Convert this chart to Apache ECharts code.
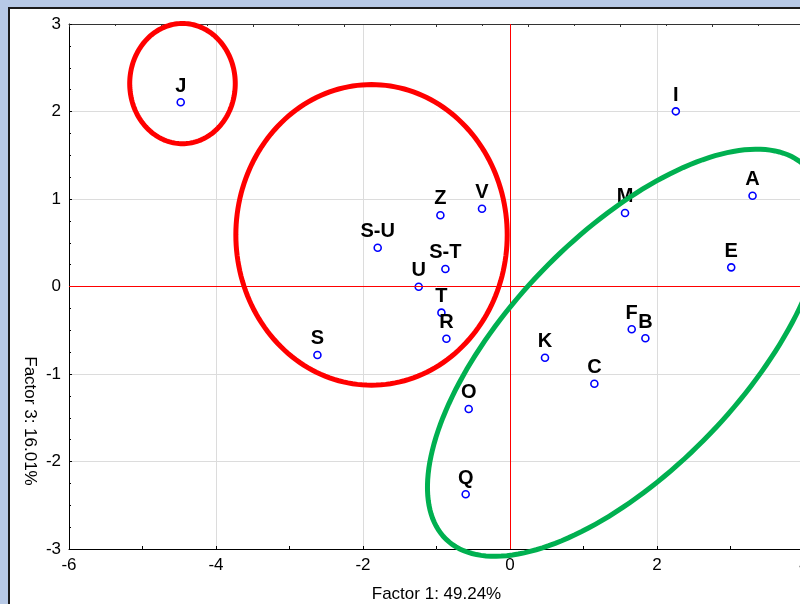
<!DOCTYPE html>
<html>
<head>
<meta charset="utf-8">
<title>Factor scores</title>
<script src="https://cdn.jsdelivr.net/npm/echarts/dist/echarts.min.js"></script>
<style>
  html, body { margin: 0; padding: 0; width: 800px; height: 604px; overflow: hidden; background: #b7c9e6; }
  #panel { position: absolute; left: 8px; top: 7px; width: 900px; height: 700px; background: #ffffff;
           border-left: 2px solid #1b1b1b; border-top: 2px solid #1b1b1b; }
  #chart { position: absolute; left: 0; top: 0; width: 840px; height: 620px; }
</style>
</head>
<body>
<div id="panel"></div>
<div id="chart"></div>
<script>
// Sample labels with their scores on factor 1 (x) and factor 3 (y)
const sampleNames = ['J', 'I', 'A', 'E', 'M', 'F', 'B', 'K', 'C', 'O', 'Q',
                     'S', 'S-U', 'Z', 'V', 'S-T', 'U', 'T', 'R'];
const factor1 = [-4.48, 2.256, 3.30, 3.01, 1.565, 1.656, 1.842, 0.476, 1.148, -0.562, -0.603,
                 -2.62, -1.80, -0.947, -0.381, -0.879, -1.242, -0.933, -0.865];
const factor3 = [2.105, 2.002, 1.038, 0.219, 0.84, -0.489, -0.592, -0.814, -1.111, -1.40, -2.375,
                 -0.783, 0.443, 0.814, 0.889, 0.20, -0.002, -0.299, -0.597];

// Axis ranges and ticks
const xRange = [-6, 4];
const xStep = 2;
const yRange = [-3, 3];
const yStep = 1;

// Grouping ellipses: centre (x, y) and two conjugate semi-axis vectors (u, v), in data units
const groupCentreX = [-4.456, -1.884, 1.574];
const groupCentreY = [2.319, 0.590, -0.757];
const groupUX = [0.718, 1.846, 2.441];
const groupUY = [0, 0, 2.134];
const groupVX = [0, 0, 1.147];
const groupVY = [0.687, 1.718, -0.926];
const groupColors = ['#ff0000', '#ff0000', '#00b050'];

const FONT = 'Arial, "Liberation Sans", sans-serif';

const points = sampleNames.map((n, i) => ({ name: n, value: [factor1[i], factor3[i]] }));
const groups = groupCentreX.map((cx, i) => [cx, groupCentreY[i], groupUX[i], groupUY[i], groupVX[i], groupVY[i], i]);

const chart = echarts.init(document.getElementById('chart'), null, { renderer: 'canvas' });

chart.setOption({
  animation: false,
  backgroundColor: 'transparent',
  grid: { left: 69, top: 24, width: 735, height: 525, containLabel: false },
  xAxis: [{
    type: 'value', position: 'bottom', min: xRange[0], max: xRange[1], interval: xStep,
    name: 'Factor 1: 49.24%', nameLocation: 'middle', nameGap: 37,
    nameTextStyle: { fontFamily: FONT, fontSize: 17, color: '#000' },
    axisLine: { show: true, onZero: false, lineStyle: { color: '#000', width: 1 } },
    axisTick: { show: true, inside: true, length: 3, lineStyle: { color: '#000' } },
    minorTick: { show: true, splitNumber: 2, length: 3, lineStyle: { color: '#000' } },
    splitLine: { show: true, lineStyle: { color: '#dcdcdc', width: 1 } },
    axisLabel: { fontFamily: FONT, fontSize: 17, color: '#000', margin: 8 }
  }, {
    type: 'value', position: 'top', min: 0, max: 16, interval: 2,
    axisLine: { show: true, onZero: false, lineStyle: { color: '#333', width: 1 } },
    axisTick: { show: true, inside: true, length: 3, lineStyle: { color: '#333' } },
    minorTick: { show: true, splitNumber: 2, length: 2, lineStyle: { color: '#333' } },
    splitLine: { show: false },
    axisLabel: { show: false }
  }],
  yAxis: {
    type: 'value', min: yRange[0], max: yRange[1], interval: yStep,
    axisLine: { show: true, onZero: false, lineStyle: { color: '#000', width: 1 } },
    axisTick: { show: true, inside: true, length: 3, lineStyle: { color: '#000' } },
    minorTick: { show: true, splitNumber: 4, length: 2, lineStyle: { color: '#000' } },
    splitLine: { show: true, lineStyle: { color: '#dcdcdc', width: 1 } },
    axisLabel: { fontFamily: FONT, fontSize: 17, color: '#000', margin: 8 }
  },
  graphic: [{
    type: 'text', x: 30, y: 421, rotation: -Math.PI / 2,
    style: { text: 'Factor 3: 16.01%', fontFamily: FONT, fontSize: 17, fill: '#000',
             align: 'center', verticalAlign: 'middle' }
  }],
  series: [{
    type: 'scatter',
    xAxisIndex: 0,
    data: points,
    symbol: 'circle',
    symbolSize: 7,
    itemStyle: { color: '#ffffff', borderColor: '#0000ff', borderWidth: 1.6, opacity: 1 },
    label: {
      show: true, position: 'top', distance: 2, formatter: '{b}',
      fontFamily: FONT, fontSize: 20, fontWeight: 'bold', color: '#000'
    },
    emphasis: { disabled: true },
    z: 3,
    markLine: {
      silent: true, symbol: 'none', animation: false,
      label: { show: false },
      lineStyle: { color: '#ff0000', width: 1, type: 'solid' },
      data: [{ xAxis: 0 }, { yAxis: 0 }]
    }
  }, {
    type: 'custom',
    xAxisIndex: 0,
    data: groups,
    encode: { x: 0, y: 1 },
    clip: false,
    z: 5,
    silent: true,
    renderItem: function (params, api) {
      const cx = api.value(0), cy = api.value(1);
      const ux = api.value(2), uy = api.value(3);
      const vx = api.value(4), vy = api.value(5);
      const idx = api.value(6);
      const pts = [];
      const steps = 180;
      for (let k = 0; k < steps; k++) {
        const t = (k / steps) * Math.PI * 2;
        pts.push(api.coord([cx + ux * Math.cos(t) + vx * Math.sin(t),
                            cy + uy * Math.cos(t) + vy * Math.sin(t)]));
      }
      return {
        type: 'polygon',
        shape: { points: pts },
        style: { fill: 'none', stroke: groupColors[idx], lineWidth: 5 }
      };
    }
  }]
});
</script>
</body>
</html>
